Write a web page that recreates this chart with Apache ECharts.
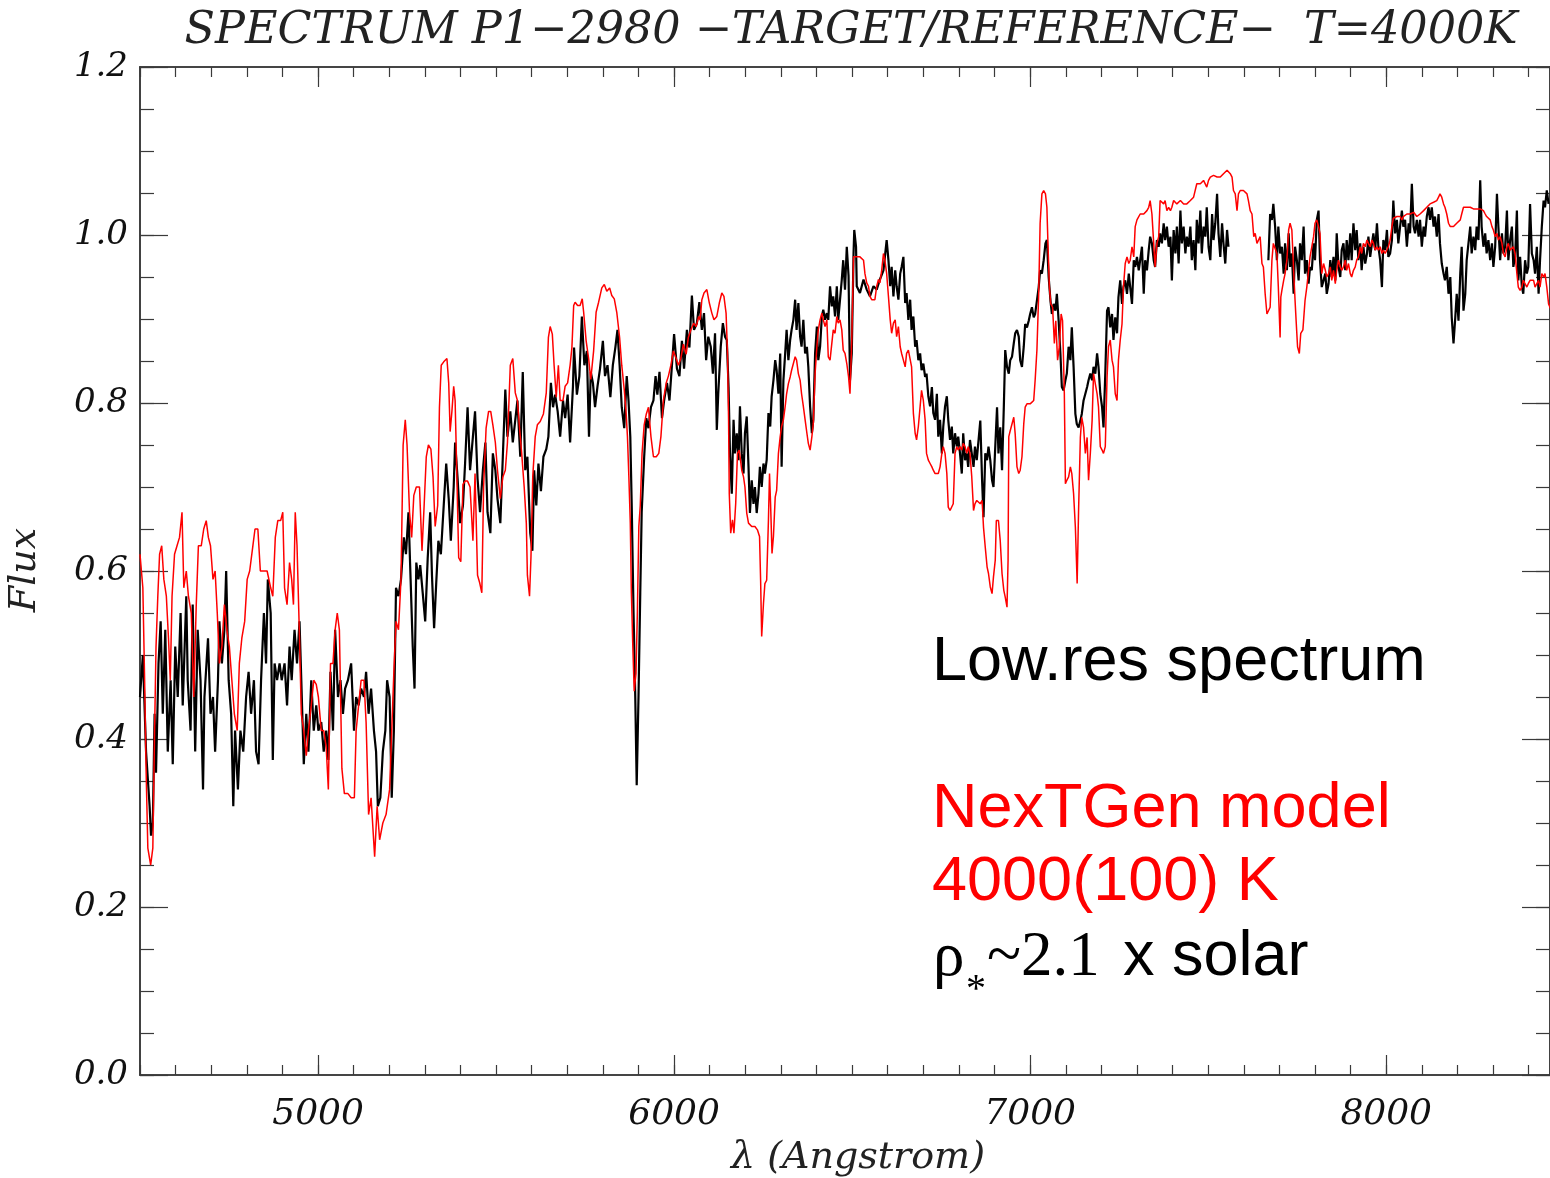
<!DOCTYPE html>
<html>
<head>
<meta charset="utf-8">
<script src="https://cdn.jsdelivr.net/npm/echarts@6/dist/echarts.min.js"></script>
<style>
html,body{margin:0;padding:0;background:#fff;}
#chart{width:1550px;height:1178px;}
</style>
</head>
<body>
<div id="chart"></div>
<script>
// ---------- DATA (wavelength in Angstrom, normalised flux) ----------
const xMajorTicks = [5000, 6000, 7000, 8000];
const yMajorTicks = [0, 0.2, 0.4, 0.6, 0.8, 1.0, 1.2];

// Observed low-resolution spectrum (black)
const observedA = [[4500,0.45],[4508,0.50],[4517,0.385],[4527,0.32],[4531,0.285],[4536,0.30],[4541,0.43],[4545,0.36],[4552,0.49],[4558,0.54],[4564,0.43],[4571,0.53],[4578,0.385],[4586,0.47],[4592,0.37],[4599,0.51],[4606,0.45],[4614,0.55],[4620,0.44],[4630,0.57],[4634,0.47],[4642,0.41],[4648,0.56],[4655,0.385],[4662,0.53],[4670,0.47],[4677,0.34],[4681,0.45],[4691,0.52],[4698,0.43],[4705,0.45],[4711,0.385],[4719,0.47],[4723,0.54],[4730,0.49],[4737,0.53],[4742,0.60],[4749,0.47],[4756,0.43],[4762,0.32],[4767,0.41],[4775,0.34],[4782,0.41],[4790,0.385],[4798,0.45],[4805,0.48],[4812,0.43],[4820,0.47],[4826,0.385],[4833,0.37],[4840,0.47],[4848,0.55],[4854,0.49],[4859,0.59],[4867,0.55],[4873,0.375],[4878,0.49],[4885,0.47],[4892,0.49],[4898,0.47],[4906,0.49],[4913,0.44],[4920,0.51],[4926,0.47],[4934,0.53],[4941,0.49],[4948,0.54],[4953,0.47],[4960,0.37],[4967,0.43],[4973,0.385],[4981,0.47],[4988,0.41],[4995,0.44],[5001,0.41],[5009,0.42],[5016,0.385],[5023,0.41],[5029,0.375],[5035,0.48],[5042,0.41],[5048,0.53],[5056,0.45],[5063,0.47],[5070,0.43],[5076,0.46],[5084,0.47],[5093,0.49],[5101,0.41],[5107,0.45],[5114,0.44],[5121,0.46],[5129,0.45],[5135,0.48],[5142,0.43],[5149,0.46],[5157,0.41],[5163,0.385],[5168,0.32],[5175,0.33],[5182,0.385],[5189,0.41],[5194,0.47],[5201,0.45],[5207,0.33],[5213,0.41],[5219,0.58],[5226,0.57],[5233,0.59],[5241,0.64],[5247,0.62],[5254,0.67],[5260,0.59],[5266,0.51],[5271,0.46],[5276,0.61],[5282,0.59]];
const observedB = [[5287,0.607],[5294,0.574],[5301,0.54],[5308,0.615],[5315,0.67],[5320,0.595],[5326,0.532],[5332,0.586],[5338,0.636],[5345,0.62],[5353,0.678],[5360,0.728],[5367,0.686],[5373,0.636],[5381,0.70],[5385,0.753],[5392,0.71],[5399,0.657],[5407,0.678],[5413,0.728],[5420,0.795],[5427,0.72],[5435,0.76],[5441,0.79],[5448,0.71],[5455,0.67],[5463,0.72],[5470,0.753],[5476,0.67],[5484,0.645],[5491,0.74],[5498,0.72],[5504,0.686],[5512,0.657],[5519,0.736],[5526,0.816],[5532,0.76],[5540,0.79],[5547,0.753],[5554,0.78],[5560,0.803],[5568,0.736],[5575,0.837],[5582,0.72],[5588,0.736],[5596,0.645],[5602,0.624],[5607,0.72],[5613,0.678],[5619,0.728],[5626,0.695],[5633,0.736],[5641,0.745],[5647,0.76],[5654,0.824],[5660,0.795],[5666,0.81],[5673,0.79],[5680,0.76],[5688,0.803],[5694,0.782],[5701,0.81],[5708,0.753],[5716,0.82],[5719,0.866],[5727,0.81],[5734,0.832],[5741,0.903],[5748,0.845],[5755,0.862],[5761,0.76],[5766,0.837],[5772,0.824],[5778,0.795],[5785,0.82],[5792,0.841],[5800,0.874],[5806,0.832],[5813,0.845],[5821,0.807],[5828,0.845],[5835,0.866],[5841,0.887],[5847,0.845],[5853,0.795],[5860,0.77],[5867,0.832],[5872,0.803],[5877,0.76],[5881,0.678],[5886,0.553],[5891,0.449],[5895,0.345],[5900,0.449],[5905,0.574],[5909,0.67],[5916,0.736],[5922,0.782],[5928,0.77],[5935,0.795],[5942,0.803],[5948,0.832],[5953,0.81],[5959,0.837],[5966,0.782],[5972,0.803],[5980,0.824],[5987,0.803],[5994,0.845],[6000,0.882],[6008,0.841],[6015,0.832],[6022,0.874],[6028,0.841],[6036,0.887],[6043,0.866],[6050,0.928],[6056,0.887],[6064,0.895],[6071,0.92]];
const observedC = [[6073,0.919],[6078,0.887],[6084,0.907],[6090,0.851],[6096,0.879],[6103,0.867],[6109,0.835],[6115,0.883],[6120,0.768],[6124,0.811],[6131,0.867],[6137,0.895],[6143,0.879],[6148,0.875],[6153,0.819],[6157,0.74],[6162,0.692],[6167,0.78],[6171,0.74],[6176,0.764],[6181,0.732],[6185,0.796],[6190,0.74],[6195,0.716],[6199,0.764],[6204,0.784],[6209,0.724],[6213,0.669],[6218,0.708],[6223,0.68],[6227,0.70],[6232,0.669],[6237,0.692],[6241,0.724],[6246,0.70],[6251,0.728],[6255,0.716],[6260,0.732],[6265,0.788],[6270,0.772],[6274,0.808],[6279,0.827],[6284,0.851],[6288,0.839],[6293,0.811],[6298,0.859],[6302,0.724],[6307,0.827],[6312,0.859],[6316,0.887],[6321,0.851],[6326,0.875],[6330,0.887],[6335,0.899],[6340,0.923],[6344,0.887],[6349,0.919],[6354,0.879],[6358,0.867],[6363,0.899],[6368,0.859],[6373,0.867],[6377,0.843],[6382,0.796],[6387,0.764],[6391,0.78],[6396,0.859],[6401,0.891],[6405,0.851],[6410,0.867],[6415,0.903],[6419,0.911],[6424,0.899],[6429,0.907],[6433,0.899],[6438,0.939],[6443,0.915],[6447,0.927],[6452,0.903],[6457,0.939],[6461,0.899],[6466,0.923],[6471,0.947],[6475,0.97],[6480,0.935],[6485,0.986],[6490,0.951],[6494,0.827],[6499,0.859],[6504,0.978],[6506,1.006],[6511,0.986],[6513,0.939],[6522,0.931],[6532,0.947],[6541,0.935],[6550,0.927],[6560,0.939],[6569,0.935],[6578,0.947],[6588,0.958],[6592,0.974],[6597,0.994],[6602,0.97],[6607,0.939],[6611,0.962],[6616,0.927],[6621,0.958],[6625,0.939],[6630,0.923],[6635,0.954],[6639,0.962],[6644,0.974],[6649,0.919],[6653,0.931],[6658,0.899],[6663,0.923],[6667,0.887],[6672,0.903],[6677,0.867],[6681,0.875],[6686,0.851],[6691,0.859],[6695,0.839],[6700,0.847],[6705,0.831],[6709,0.835],[6714,0.808],[6719,0.796],[6724,0.819],[6728,0.788],[6733,0.78],[6738,0.811],[6742,0.76],[6747,0.78],[6752,0.74],[6756,0.772],[6761,0.796],[6766,0.808],[6770,0.78],[6775,0.756],[6780,0.772],[6784,0.74],[6789,0.764],[6794,0.748],[6798,0.76],[6803,0.74],[6808,0.716],[6812,0.764],[6817,0.732],[6822,0.74],[6826,0.724],[6831,0.756],[6836,0.74],[6841,0.724],[6845,0.748],[6850,0.732]];
const observedD = [[6860,0.779],[6865,0.708],[6869,0.664],[6874,0.740],[6879,0.732],[6883,0.748],[6888,0.732],[6893,0.708],[6897,0.700],[6902,0.748],[6907,0.795],[6911,0.740],[6916,0.771],[6921,0.720],[6926,0.795],[6930,0.863],[6935,0.843],[6940,0.835],[6944,0.851],[6949,0.855],[6954,0.871],[6958,0.883],[6963,0.887],[6968,0.879],[6972,0.851],[6977,0.843],[6982,0.867],[6986,0.894],[6991,0.890],[6996,0.898],[7000,0.906],[7005,0.914],[7010,0.902],[7014,0.906],[7019,0.922],[7024,0.938],[7028,0.958],[7033,0.954],[7038,0.970],[7043,0.990],[7047,0.994],[7052,0.950],[7057,0.922],[7061,0.906],[7066,0.918],[7071,0.910],[7075,0.930],[7080,0.898],[7085,0.859],[7089,0.819],[7094,0.815],[7099,0.827],[7103,0.835],[7108,0.867],[7113,0.851],[7117,0.890],[7122,0.843],[7127,0.787],[7131,0.775],[7136,0.771],[7141,0.779],[7145,0.787],[7150,0.803],[7155,0.811],[7160,0.819],[7164,0.827],[7169,0.835],[7174,0.827],[7178,0.843],[7183,0.835],[7188,0.859],[7192,0.843],[7197,0.811],[7202,0.795],[7206,0.771],[7211,0.835],[7216,0.910],[7220,0.914],[7225,0.890],[7230,0.906],[7234,0.875],[7239,0.902],[7244,0.883],[7248,0.926],[7253,0.946],[7258,0.918],[7262,0.938],[7267,0.946],[7272,0.930],[7277,0.954],[7281,0.938],[7286,0.918],[7291,0.970],[7295,0.962],[7300,0.974],[7305,0.958],[7309,0.970],[7314,0.986],[7319,0.930],[7323,0.970],[7328,0.958],[7333,0.982],[7337,0.998],[7342,0.990],[7347,0.970],[7351,0.962],[7356,0.994],[7361,0.986],[7365,1.002],[7370,0.990],[7375,1.014],[7379,0.994],[7384,1.010],[7389,0.986],[7394,0.998],[7398,0.946],[7403,1.006],[7408,0.978],[7412,1.010],[7417,0.966],[7422,1.029],[7426,0.990],[7431,1.010],[7436,0.978],[7440,0.998],[7445,0.986],[7450,1.010],[7454,0.970],[7459,0.994],[7464,0.958],[7468,1.018],[7473,0.990],[7478,1.029],[7482,0.978],[7487,1.010],[7492,0.998],[7496,1.033],[7501,0.986],[7506,0.970],[7511,1.025],[7515,0.994],[7520,1.014],[7525,1.049],[7529,1.002],[7534,0.974],[7539,1.014],[7543,0.990],[7548,0.966],[7553,1.006],[7557,0.986]];
const observedE = [[7669,0.970],[7674,1.025],[7679,1.018],[7683,1.037],[7688,1.010],[7693,0.970],[7697,1.010],[7702,0.978],[7707,0.986],[7712,0.954],[7716,0.990],[7721,0.958],[7726,1.002],[7730,0.962],[7735,0.978],[7740,0.930],[7744,0.986],[7749,0.970],[7754,0.946],[7758,0.990],[7763,0.970],[7768,1.010],[7772,0.954],[7777,0.970],[7782,0.942],[7786,0.962],[7791,0.958],[7796,0.990],[7800,0.970],[7805,1.018],[7810,1.029],[7814,0.970],[7819,0.938],[7824,0.946],[7829,0.954],[7833,0.930],[7838,0.942],[7843,0.970],[7847,0.950],[7852,0.974],[7857,0.946],[7861,1.002],[7866,0.962],[7871,0.950],[7875,0.982],[7880,0.990],[7885,0.958],[7889,0.994],[7894,0.970],[7899,1.002],[7903,0.970],[7908,1.014],[7913,0.982],[7917,1.006],[7922,0.970],[7927,0.990],[7931,0.958],[7936,0.986],[7941,0.966],[7946,0.978],[7950,0.998],[7955,0.974],[7960,0.990],[7964,1.002],[7969,0.982],[7974,1.014],[7978,0.986],[7983,0.970],[7988,0.938],[7992,0.994],[7997,0.982],[8002,1.006],[8006,0.974],[8011,0.978],[8016,0.994],[8020,1.041],[8025,1.002],[8030,1.018],[8034,0.990],[8039,1.010],[8044,1.029],[8048,1.010],[8053,1.018],[8058,0.986],[8063,1.014],[8067,1.002],[8072,1.061],[8077,1.010],[8081,1.002],[8086,1.018],[8091,0.998],[8095,1.018],[8100,0.986],[8105,1.010],[8109,0.998],[8114,1.022],[8119,1.033],[8123,1.018],[8128,1.033],[8133,1.010],[8137,1.022],[8142,0.998],[8147,1.025],[8151,0.990],[8156,0.966],[8161,0.954],[8165,0.946],[8170,0.962],[8175,0.930],[8180,0.950],[8184,0.902],[8189,0.871],[8194,0.902],[8198,0.930],[8203,0.898],[8208,0.954],[8212,0.986],[8217,0.910],[8222,0.930],[8226,0.970],[8231,0.990],[8236,1.010],[8240,0.978],[8245,0.998],[8250,0.982],[8254,1.010],[8259,0.994],[8264,1.065],[8268,1.010],[8273,0.986],[8278,1.002],[8282,0.978],[8287,0.994],[8292,0.970],[8297,0.990],[8301,0.962],[8306,0.986],[8311,1.049],[8315,1.010],[8320,0.970],[8325,1.002],[8329,0.978],[8334,0.986],[8339,1.029],[8343,0.970],[8348,0.994],[8353,1.010],[8357,0.962],[8362,0.974],[8367,1.029],[8371,0.946],[8376,0.974],[8381,0.938],[8385,0.930],[8390,0.970],[8395,0.954],[8399,0.962],[8404,1.037],[8409,0.978],[8414,0.970],[8418,0.954],[8423,0.986],[8428,0.930],[8432,0.970],[8437,1.010],[8442,1.041],[8446,1.033],[8451,1.053],[8456,1.037]];

// NexTGen model spectrum (red)
const modelA = [[4500,0.62],[4508,0.58],[4513,0.47],[4517,0.365],[4522,0.27],[4530,0.25],[4536,0.27],[4541,0.41],[4545,0.51],[4550,0.57],[4555,0.62],[4561,0.63],[4567,0.59],[4574,0.57],[4580,0.52],[4585,0.47],[4590,0.57],[4597,0.62],[4604,0.63],[4611,0.64],[4618,0.67],[4623,0.58],[4630,0.60],[4636,0.57],[4644,0.55],[4651,0.45],[4658,0.56],[4664,0.63],[4672,0.63],[4679,0.65],[4686,0.66],[4692,0.64],[4698,0.63],[4705,0.59],[4711,0.60],[4717,0.55],[4723,0.49],[4730,0.51],[4737,0.56],[4744,0.53],[4751,0.51],[4758,0.47],[4765,0.43],[4773,0.41],[4779,0.49],[4786,0.52],[4794,0.54],[4801,0.59],[4808,0.60],[4817,0.63],[4823,0.65],[4831,0.65],[4838,0.60],[4848,0.60],[4857,0.60],[4867,0.58],[4873,0.57],[4880,0.64],[4887,0.66],[4895,0.66],[4901,0.67],[4906,0.58],[4913,0.56],[4920,0.61],[4926,0.59],[4931,0.56],[4936,0.67],[4941,0.63],[4948,0.52],[4953,0.43],[4960,0.41],[4967,0.38],[4973,0.41],[4981,0.44],[4988,0.47],[4995,0.465],[5001,0.45],[5009,0.41],[5016,0.41],[5023,0.39],[5029,0.34],[5035,0.49],[5042,0.49],[5048,0.53],[5054,0.55],[5060,0.53],[5067,0.365],[5074,0.335],[5084,0.335],[5093,0.33],[5102,0.33],[5107,0.41],[5114,0.44],[5121,0.47],[5129,0.47],[5135,0.42],[5142,0.31],[5149,0.33],[5159,0.26],[5166,0.32],[5173,0.28],[5182,0.30],[5191,0.31],[5201,0.34],[5207,0.41],[5213,0.48],[5219,0.54],[5226,0.53],[5233,0.59],[5239,0.75],[5245,0.78],[5250,0.75],[5257,0.67],[5263,0.64],[5269,0.69],[5276,0.70],[5285,0.70]];
const modelB = [[5287,0.70],[5292,0.624],[5298,0.678],[5304,0.736],[5310,0.75],[5317,0.745],[5323,0.712],[5329,0.653],[5336,0.678],[5341,0.795],[5346,0.845],[5353,0.849],[5362,0.853],[5367,0.824],[5371,0.766],[5376,0.79],[5381,0.82],[5385,0.803],[5390,0.712],[5395,0.616],[5401,0.611],[5407,0.703],[5413,0.707],[5420,0.707],[5427,0.70],[5435,0.636],[5441,0.716],[5448,0.595],[5454,0.586],[5460,0.574],[5465,0.70],[5472,0.77],[5479,0.79],[5485,0.79],[5491,0.774],[5498,0.753],[5504,0.72],[5512,0.686],[5519,0.712],[5526,0.72],[5532,0.753],[5540,0.845],[5547,0.853],[5554,0.812],[5560,0.803],[5566,0.77],[5572,0.74],[5579,0.70],[5585,0.657],[5588,0.595],[5594,0.57],[5598,0.616],[5603,0.712],[5610,0.76],[5616,0.774],[5624,0.778],[5633,0.787],[5641,0.812],[5647,0.878],[5652,0.891],[5658,0.882],[5663,0.845],[5669,0.807],[5675,0.845],[5680,0.803],[5688,0.803],[5694,0.82],[5701,0.824],[5708,0.845],[5713,0.866],[5718,0.916],[5722,0.92],[5729,0.916],[5736,0.916],[5742,0.924],[5746,0.908],[5753,0.874],[5760,0.853],[5766,0.828],[5774,0.862],[5781,0.908],[5788,0.92],[5797,0.937],[5804,0.941],[5811,0.933],[5819,0.937],[5825,0.928],[5832,0.924],[5839,0.908],[5847,0.878],[5853,0.845],[5860,0.816],[5865,0.79],[5869,0.76],[5873,0.712],[5877,0.657],[5880,0.574],[5884,0.511],[5888,0.457],[5893,0.478],[5897,0.553],[5901,0.653],[5905,0.678],[5910,0.74],[5916,0.774],[5922,0.787],[5928,0.795],[5935,0.76],[5942,0.736],[5950,0.736],[5957,0.74],[5963,0.76],[5970,0.803],[5978,0.824],[5984,0.832],[5991,0.845],[5998,0.862],[6006,0.853],[6012,0.845],[6019,0.853],[6026,0.87],[6034,0.858],[6040,0.878],[6047,0.887],[6055,0.895],[6062,0.891],[6069,0.903]];
const modelC = [[6073,0.899],[6078,0.923],[6084,0.931],[6092,0.935],[6099,0.919],[6106,0.907],[6112,0.899],[6120,0.903],[6127,0.919],[6134,0.931],[6140,0.927],[6146,0.907],[6150,0.859],[6153,0.78],[6155,0.692],[6159,0.645],[6164,0.661],[6168,0.645],[6173,0.68],[6178,0.74],[6183,0.744],[6190,0.72],[6195,0.712],[6199,0.70],[6204,0.669],[6209,0.657],[6218,0.653],[6227,0.653],[6234,0.649],[6240,0.641],[6243,0.589],[6246,0.522],[6251,0.561],[6255,0.585],[6260,0.589],[6265,0.661],[6268,0.716],[6271,0.68],[6275,0.621],[6279,0.641],[6284,0.688],[6288,0.696],[6293,0.74],[6298,0.76],[6302,0.772],[6307,0.78],[6312,0.796],[6316,0.811],[6321,0.823],[6326,0.831],[6330,0.839],[6335,0.847],[6340,0.855],[6344,0.851],[6349,0.835],[6354,0.827],[6358,0.811],[6363,0.796],[6368,0.78],[6373,0.764],[6377,0.752],[6382,0.744],[6387,0.76],[6391,0.776],[6396,0.835],[6401,0.867],[6405,0.887],[6410,0.899],[6415,0.907],[6419,0.899],[6424,0.891],[6429,0.899],[6433,0.855],[6438,0.851],[6443,0.851],[6447,0.887],[6452,0.883],[6457,0.903],[6461,0.895],[6466,0.899],[6471,0.887],[6475,0.863],[6480,0.859],[6485,0.847],[6490,0.831],[6494,0.811],[6499,0.875],[6504,0.974],[6508,0.976],[6513,0.974],[6522,0.974],[6532,0.970],[6536,0.954],[6541,0.943],[6546,0.939],[6550,0.927],[6555,0.923],[6560,0.923],[6564,0.923],[6569,0.939],[6574,0.947],[6578,0.943],[6583,0.958],[6588,0.978],[6592,0.970],[6597,0.954],[6602,0.927],[6607,0.899],[6611,0.883],[6616,0.895],[6621,0.899],[6625,0.879],[6630,0.891],[6635,0.867],[6639,0.859],[6644,0.851],[6649,0.843],[6653,0.859],[6658,0.863],[6663,0.863],[6667,0.843],[6672,0.788],[6677,0.764],[6681,0.756],[6686,0.772],[6691,0.796],[6695,0.815],[6700,0.803],[6705,0.78],[6709,0.74],[6714,0.732],[6719,0.728],[6724,0.724],[6728,0.720],[6733,0.716],[6738,0.716],[6742,0.716],[6747,0.724],[6752,0.74],[6756,0.748],[6761,0.74],[6766,0.716],[6770,0.676],[6775,0.672],[6780,0.672],[6784,0.680],[6789,0.74],[6794,0.748],[6798,0.744],[6803,0.748],[6808,0.744],[6812,0.752],[6817,0.748],[6822,0.74],[6826,0.748],[6831,0.74],[6836,0.712],[6841,0.672],[6845,0.680],[6850,0.684]];
const modelD = [[6860,0.680],[6865,0.684],[6869,0.652],[6874,0.628],[6879,0.605],[6883,0.597],[6888,0.581],[6893,0.573],[6897,0.593],[6902,0.613],[6905,0.660],[6911,0.660],[6916,0.636],[6921,0.597],[6926,0.577],[6930,0.569],[6935,0.557],[6938,0.613],[6940,0.760],[6944,0.767],[6949,0.775],[6954,0.783],[6958,0.763],[6963,0.724],[6968,0.716],[6972,0.720],[6977,0.736],[6982,0.775],[6986,0.795],[6991,0.799],[7000,0.799],[7010,0.803],[7014,0.827],[7019,0.863],[7024,0.930],[7028,1.014],[7033,1.049],[7038,1.053],[7043,1.049],[7047,1.033],[7050,0.990],[7054,0.938],[7058,0.918],[7063,0.914],[7068,0.871],[7072,0.898],[7077,0.851],[7082,0.867],[7087,0.906],[7091,0.898],[7096,0.811],[7099,0.704],[7103,0.708],[7108,0.712],[7113,0.724],[7117,0.716],[7122,0.692],[7127,0.652],[7130,0.613],[7132,0.585],[7136,0.672],[7141,0.759],[7145,0.783],[7150,0.771],[7155,0.740],[7160,0.759],[7164,0.708],[7169,0.740],[7174,0.779],[7178,0.835],[7183,0.835],[7188,0.811],[7192,0.795],[7197,0.748],[7202,0.744],[7206,0.740],[7211,0.748],[7216,0.831],[7220,0.867],[7225,0.875],[7230,0.851],[7234,0.843],[7239,0.811],[7244,0.803],[7248,0.851],[7253,0.875],[7258,0.894],[7262,0.938],[7267,0.966],[7272,0.974],[7277,0.966],[7281,0.970],[7286,0.986],[7291,0.974],[7295,1.010],[7300,1.018],[7309,1.025],[7319,1.025],[7328,1.029],[7333,1.033],[7337,1.041],[7342,1.025],[7347,0.990],[7351,0.962],[7356,0.990],[7361,0.998],[7365,1.041],[7370,1.041],[7375,1.037],[7379,1.041],[7384,1.029],[7389,1.033],[7394,1.029],[7398,1.033],[7403,1.041],[7412,1.037],[7422,1.041],[7431,1.037],[7440,1.037],[7450,1.041],[7459,1.045],[7468,1.061],[7478,1.061],[7487,1.065],[7496,1.057],[7501,1.065],[7506,1.069],[7515,1.071],[7525,1.069],[7534,1.069],[7543,1.073],[7553,1.077],[7562,1.073],[7567,1.069],[7571,1.053],[7576,1.049],[7581,1.029],[7585,1.049],[7590,1.053],[7599,1.053],[7609,1.049],[7613,1.041],[7618,1.029],[7623,1.025],[7628,0.998],[7632,1.002],[7637,0.990]];
const modelE = [[7646,0.998],[7651,0.966],[7655,0.962],[7660,0.930],[7665,0.906],[7669,0.906],[7674,0.914],[7679,0.970],[7683,0.990],[7688,0.990],[7693,0.978],[7697,0.938],[7702,0.878],[7704,0.926],[7707,0.934],[7712,0.946],[7716,0.954],[7721,0.970],[7726,1.006],[7730,1.014],[7735,1.006],[7740,0.958],[7744,0.922],[7747,0.898],[7751,0.867],[7756,0.859],[7760,0.883],[7766,0.887],[7772,0.922],[7777,0.938],[7782,0.958],[7786,0.974],[7791,0.986],[7796,0.998],[7800,1.014],[7805,1.018],[7810,1.010],[7814,1.002],[7819,0.954],[7824,0.966],[7829,0.958],[7833,0.950],[7838,0.954],[7843,0.962],[7847,0.946],[7852,0.958],[7857,0.942],[7861,0.958],[7866,0.970],[7871,0.962],[7875,0.958],[7880,0.962],[7885,0.970],[7889,0.958],[7894,0.966],[7899,0.954],[7903,0.950],[7908,0.958],[7913,0.962],[7917,0.970],[7922,0.974],[7927,0.986],[7931,0.978],[7936,0.990],[7941,0.986],[7946,0.994],[7950,0.990],[7955,0.986],[7960,0.994],[7964,0.990],[7969,0.982],[7974,0.986],[7978,0.982],[7983,0.986],[7988,0.978],[7992,0.982],[7997,0.978],[8002,0.978],[8006,0.986],[8011,0.994],[8016,1.010],[8020,1.020],[8030,1.022],[8039,1.022],[8044,1.018],[8048,1.022],[8058,1.025],[8067,1.025],[8077,1.027],[8086,1.022],[8095,1.025],[8105,1.029],[8114,1.033],[8123,1.037],[8133,1.039],[8142,1.041],[8147,1.045],[8151,1.049],[8156,1.045],[8161,1.037],[8165,1.033],[8170,1.025],[8175,1.014],[8180,1.010],[8189,1.010],[8198,1.014],[8208,1.018],[8212,1.025],[8217,1.033],[8226,1.033],[8236,1.033],[8245,1.031],[8254,1.031],[8264,1.031],[8273,1.029],[8278,1.025],[8282,1.022],[8292,1.018],[8297,1.010],[8301,1.006],[8306,0.998],[8311,1.002],[8315,0.994],[8320,0.998],[8325,0.990],[8329,0.978],[8334,0.974],[8339,0.986],[8343,0.990],[8348,0.982],[8353,0.982],[8357,0.986],[8362,0.978],[8367,0.954],[8371,0.938],[8376,0.934],[8381,0.938],[8385,0.946],[8390,0.946],[8395,0.938],[8399,0.942],[8404,0.946],[8409,0.946],[8414,0.946],[8418,0.938],[8423,0.942],[8428,0.946],[8432,0.938],[8437,0.954],[8442,0.950],[8446,0.954],[8451,0.938],[8456,0.918],[8462,0.912]];

// ---------- CHART ----------
const observed = [].concat(observedA, observedB, observedC, observedD, [[7610, '-']], observedE);
const model = [].concat(modelA, modelB, modelC, modelD, modelE);

const AX = '#3a3a3a';
const SERIF = "'DejaVu Serif', serif";
const XMIN = 4500, XMAX = 8460, YMIN = 0, YMAX = 1.2;

function xAx(pos, tickLen, customTicks, showLabels) {
  const a = {
    type: 'value', position: pos, min: XMIN, max: XMAX, interval: 100,
    axisLine: { show: true, onZero: false, lineStyle: { color: AX, width: 1.6 } },
    axisTick: { show: true, inside: true, length: tickLen, lineStyle: { color: AX, width: 1.2 } },
    splitLine: { show: false },
    axisLabel: { show: false }
  };
  if (customTicks) a.axisTick.customValues = customTicks;
  if (showLabels) {
    a.axisLabel = {
      show: true, customValues: xMajorTicks, margin: 22,
      fontFamily: SERIF, fontStyle: 'italic', fontSize: 36, color: '#111',
      formatter: v => String(v)
    };
  }
  return a;
}
function yAx(pos, tickLen, interval, showLabels) {
  const a = {
    type: 'value', position: pos, min: YMIN, max: YMAX, interval: interval,
    axisLine: { show: true, onZero: false, lineStyle: { color: AX, width: 1.6 } },
    axisTick: { show: true, inside: true, length: tickLen, lineStyle: { color: AX, width: 1.2 } },
    splitLine: { show: false },
    axisLabel: { show: false }
  };
  if (showLabels) {
    a.axisLabel = {
      show: true, customValues: yMajorTicks, margin: 12,
      fontFamily: SERIF, fontStyle: 'italic', fontSize: 34, color: '#111',
      formatter: v => Number(v).toFixed(1)
    };
  }
  return a;
}

const chart = echarts.init(document.getElementById('chart'), null, { renderer: 'canvas' });
chart.setOption({
  animation: false,
  backgroundColor: '#fff',
  grid: { left: 140, right: 0, top: 67, bottom: 103, containLabel: false },
  xAxis: [
    xAx('bottom', 10, null, true),
    xAx('bottom', 20, xMajorTicks, false),
    xAx('top', 10, null, false),
    xAx('top', 20, xMajorTicks, false)
  ],
  yAxis: [
    yAx('left', 14, 0.05, true),
    yAx('left', 28, 0.2, false),
    yAx('right', 14, 0.05, false),
    yAx('right', 28, 0.2, false)
  ],
  series: [
    {
      name: 'Low.res spectrum', type: 'line', xAxisIndex: 0, yAxisIndex: 0,
      data: observed, showSymbol: false, symbol: 'none', connectNulls: false,
      lineStyle: { color: '#000', width: 2.2 }, z: 2
    },
    {
      name: 'NexTGen model', type: 'line', xAxisIndex: 0, yAxisIndex: 0,
      data: model, showSymbol: false, symbol: 'none',
      lineStyle: { color: '#ff0000', width: 1.5 }, z: 3
    }
  ],
  graphic: [
    { type: 'text', x: 851, y: 31, style: {
      text: 'SPECTRUM P1\u22122980 \u2212TARGET/REFERENCE\u2212  T=4000K',
      font: "italic 44.5px 'DejaVu Serif', serif", fill: '#222',
      align: 'center', verticalAlign: 'middle' } },
    { type: 'text', x: 858, y: 1158, style: {
      text: '\u03bb (Angstrom)', font: "italic 38px 'DejaVu Serif', serif",
      fill: '#222', align: 'center', verticalAlign: 'middle' } },
    { type: 'text', x: 25, y: 570, rotation: Math.PI / 2, style: {
      text: 'Flux', font: "italic 38px 'DejaVu Serif', serif",
      fill: '#222', align: 'center', verticalAlign: 'middle' } },
    { type: 'text', x: 932, y: 663, style: {
      text: 'Low.res spectrum', font: "63px 'Liberation Sans', Arial, sans-serif",
      fill: '#000', align: 'left', verticalAlign: 'middle' } },
    { type: 'text', x: 932, y: 810, style: {
      text: 'NexTGen model', font: "63px 'Liberation Sans', Arial, sans-serif",
      fill: '#ff0000', align: 'left', verticalAlign: 'middle' } },
    { type: 'text', x: 932, y: 883, style: {
      text: '4000(100) K', font: "63px 'Liberation Sans', Arial, sans-serif",
      fill: '#ff0000', align: 'left', verticalAlign: 'middle' } },
    { type: 'text', x: 933, y: 958, style: {
      text: '\u03c1', font: "63px 'Liberation Serif', 'Times New Roman', serif",
      fill: '#000', align: 'left', verticalAlign: 'middle' } },
    { type: 'text', x: 966, y: 990, style: {
      text: '*', font: "40px 'Liberation Serif', 'Times New Roman', serif",
      fill: '#000', align: 'left', verticalAlign: 'middle' } },
    { type: 'text', x: 987, y: 958, style: {
      text: '~2.1', font: "63px 'Liberation Serif', 'Times New Roman', serif",
      fill: '#000', align: 'left', verticalAlign: 'middle' } },
    { type: 'text', x: 1123, y: 958, style: {
      text: 'x solar', font: "63px 'Liberation Sans', Arial, sans-serif",
      fill: '#000', align: 'left', verticalAlign: 'middle' } }
  ]
});
</script>
</body>
</html>
